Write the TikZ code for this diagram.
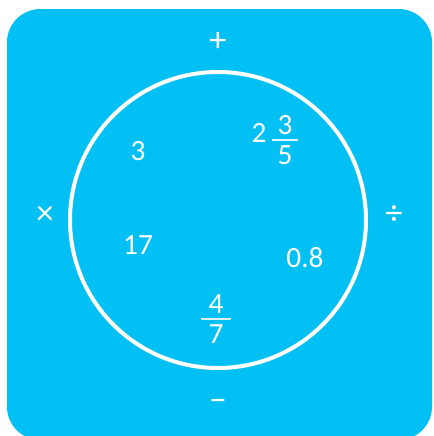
\documentclass[tikz,border=0pt]{standalone}
\usepackage{fontspec}
\setmainfont{Carlito}
\usetikzlibrary{positioning}

\definecolor{panelblue}{RGB}{2,192,244}

\tikzset{
  num/.style={text=white, inner sep=0pt, font=\fontsize{22}{24}\selectfont},
  op/.style={text=white, inner sep=0pt, font=\fontsize{26}{28}\selectfont},
  fracbar/.style={white!85!panelblue, line width=1.2pt}
}

\begin{document}
\begin{tikzpicture}[x=0.75pt, y=-0.75pt]
\useasboundingbox (0,0) rectangle (433,436);
\begin{scope}
\clip (0,0) rectangle (433,436);
\fill[panelblue, rounded corners=25] (7,9) rectangle (432,440);
\end{scope}

% ring
\draw[white, line width=3pt] (218,220) circle (148);

% operators round the ring
\node[op] (plus) at (218,42) {+};
\node[op] (times) at (45,215) {×};
\node[op] (divide) at (394,215) {÷};
\node[op] (minus) at (218,405) {−};

% numbers inside
\node[num] (three) at (138,151) {3};
\node[num] (seventeen) at (138,245) {17};
\node[num] (point8) at (305,258) {0.8};

% mixed number 2 3/5
\node[num] (two) at (259,133) {2};
\coordinate (bar35) at (285,140);
\node[num, above=4pt of bar35] (num35) {3};
\node[num, below=4pt of bar35] (den35) {5};
\draw[fracbar] ([xshift=-10]bar35) -- ([xshift=10]bar35);

% fraction 4/7
\coordinate (bar47) at (216,319);
\node[num, above=4pt of bar47] (num47) {4};
\node[num, below=4pt of bar47] (den47) {7};
\draw[fracbar] ([xshift=-11]bar47) -- ([xshift=11]bar47);
\end{tikzpicture}
\end{document}
